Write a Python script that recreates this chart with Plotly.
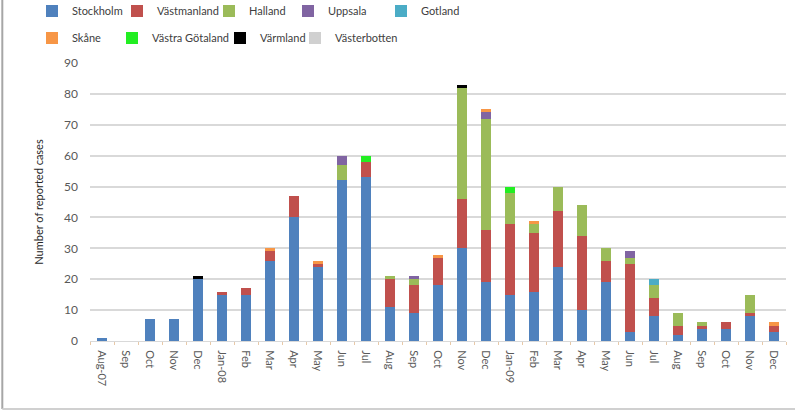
import plotly.graph_objects as go

# Month labels (two-digit year marks the first month of each year)
months = ["Aug-07", "Sep", "Oct", "Nov", "Dec",
          "Jan-08", "Feb", "Mar", "Apr", "May", "Jun", "Jul", "Aug", "Sep", "Oct", "Nov", "Dec",
          "Jan-09", "Feb", "Mar", "Apr", "May", "Jun", "Jul", "Aug", "Sep", "Oct", "Nov", "Dec"]

# Reported cases per county and month
stockholm       = [1, 0, 7, 7, 20, 15, 15, 26, 40, 24, 52, 53, 11, 9, 18, 30, 19, 15, 16, 24, 10, 19, 3, 8, 2, 4, 4, 8, 3]
vastmanland     = [0, 0, 0, 0, 0, 1, 2, 3, 7, 1, 0, 5, 9, 9, 9, 16, 17, 23, 19, 18, 24, 7, 22, 6, 3, 1, 2, 1, 2]
halland         = [0, 0, 0, 0, 0, 0, 0, 0, 0, 0, 5, 0, 1, 2, 0, 36, 36, 10, 3, 8, 10, 4, 2, 4, 4, 1, 0, 6, 0]
uppsala         = [0, 0, 0, 0, 0, 0, 0, 0, 0, 0, 3, 0, 0, 1, 0, 0, 2, 0, 0, 0, 0, 0, 2, 0, 0, 0, 0, 0, 0]
gotland         = [0, 0, 0, 0, 0, 0, 0, 0, 0, 0, 0, 0, 0, 0, 0, 0, 0, 0, 0, 0, 0, 0, 0, 2, 0, 0, 0, 0, 0]
skane           = [0, 0, 0, 0, 0, 0, 0, 1, 0, 1, 0, 0, 0, 0, 1, 0, 1, 0, 1, 0, 0, 0, 0, 0, 0, 0, 0, 0, 1]
vastra_gotaland = [0, 0, 0, 0, 0, 0, 0, 0, 0, 0, 0, 2, 0, 0, 0, 0, 0, 2, 0, 0, 0, 0, 0, 0, 0, 0, 0, 0, 0]
varmland        = [0, 0, 0, 0, 1, 0, 0, 0, 0, 0, 0, 0, 0, 0, 0, 1, 0, 0, 0, 0, 0, 0, 0, 0, 0, 0, 0, 0, 0]
vasterbotten    = [0] * 29

# (name, values, colour)
series = [
    ("Stockholm", stockholm, "#4F81BD"),
    ("Västmanland", vastmanland, "#C0504D"),
    ("Halland", halland, "#9BBB59"),
    ("Uppsala", uppsala, "#8064A2"),
    ("Gotland", gotland, "#4BACC6"),
    ("Skåne", skane, "#F79646"),
    ("Västra Götaland", vastra_gotaland, "#22EE22"),
    ("Värmland", varmland, "#000000"),
    ("Västerbotten", vasterbotten, "#D0D0D0"),
]

# Legend key positions: (symbol centre x in px, row centre y in px)
legend_slots = [(52, 11), (137, 11), (229, 11), (308, 11), (401, 11),
                (52, 38), (132, 38), (240, 38), (315, 38)]

W, H = 795, 413
ML, MR, MT, MB = 90, 9, 63, 72
plot_w = W - ML - MR

x = list(range(len(months)))
boundaries = [i - 0.5 for i in range(len(months) + 1)]
font_family = "Lato, Roboto, Arial, sans-serif"

fig = go.Figure()
legends = {}
for i, ((name, vals, color), (sx, sy)) in enumerate(zip(series, legend_slots)):
    key = "legend" if i == 0 else f"legend{i + 1}"
    fig.add_trace(go.Bar(x=x, y=vals, name=name, marker_color=color,
                         marker_line_width=0, legend=key, showlegend=True))
    legends[key] = dict(
        visible=True,
        orientation="h", xanchor="left", yanchor="middle",
        xref="paper", yref="container",
        x=(sx - 20 - ML) / plot_w, y=1 - sy / H,
        bgcolor="rgba(0,0,0,0)",
        font=dict(size=11, color="#404040", family=font_family),
        itemwidth=30,
    )

fig.update_layout(
    width=W, height=H,
    showlegend=True,
    margin=dict(l=ML, r=MR, t=MT, b=MB, autoexpand=False),
    barmode="stack", bargap=0.58,
    plot_bgcolor="white", paper_bgcolor="white",
    font=dict(family=font_family, color="#595959", size=11),
    **legends,
    xaxis=dict(
        tickmode="array", tickvals=x, ticktext=months, tickangle=90,
        range=[-0.5, len(months) - 0.5],
        showline=True, linecolor="#D9D9D9", linewidth=1,
        ticks="", showgrid=False,
        minor=dict(tickmode="array", tickvals=boundaries, ticks="outside",
                   ticklen=3, tickcolor="#E8C9A8", showgrid=False),
        tickfont=dict(size=11, color="#595959"),
        ticklabelstandoff=6,
    ),
    yaxis=dict(
        range=[0, 90], dtick=10, showgrid=True, gridcolor="#D9D9D9", gridwidth=1.5,
        zeroline=False, showline=False, ticks="",
        tickfont=dict(size=12, color="#595959"),
        ticklabelstandoff=11,
        title=dict(text="Number of reported cases", standoff=18,
                   font=dict(size=11, color="#262626", family=font_family)),
    ),
    shapes=[
        dict(type="line", xref="paper", yref="paper", x0=-0.126, x1=-0.126, y0=-0.245, y1=1.3,
             line=dict(color="#A6A6A6", width=2)),
        dict(type="line", xref="paper", yref="paper", x0=-0.126, x1=1.02, y0=-0.245, y1=-0.245,
             line=dict(color="#D0D0D0", width=2)),
    ],
)

fig.write_html("out.html")
